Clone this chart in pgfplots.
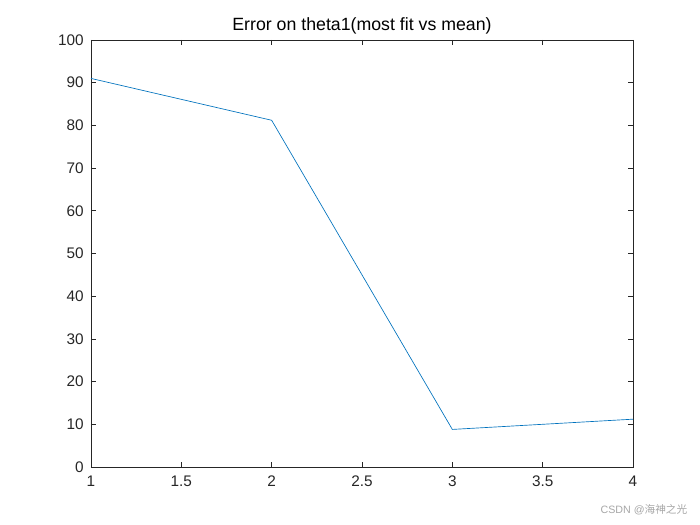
\documentclass[border=0pt]{standalone}
\usepackage{pgfplots}
\pgfplotsset{compat=1.18}
\usepackage{fontspec}
\setmainfont{Liberation Sans}
\newfontfamily\cjk{Noto Sans CJK SC}
\definecolor{mblue}{rgb}{0,0.447,0.741}
\definecolor{axgray}{rgb}{0.15,0.15,0.15}
\begin{document}
\begin{tikzpicture}
\path[use as bounding box] (-68.25pt,-43.5pt) rectangle (456.75pt,350.25pt);
\begin{axis}[
  at={(0,0)}, anchor=south west,
  scale only axis, width=406.5pt, height=320.25pt,
  xmin=1, xmax=4, ymin=0, ymax=100,
  xtick={1,1.5,...,4}, ytick={0,10,...,100},
  tick align=inside, tick pos=both,
  major tick length=4pt,
  axis line style={axgray, line width=0.5pt},
  every tick/.style={axgray, line width=0.5pt},
  tick label style={font=\fontsize{11.5}{13}\selectfont, text=axgray},
  /pgf/number format/assume math mode=true,
  title={Error on theta1(most fit vs mean)},
  title style={font=\fontsize{13.3}{15}\selectfont, yshift=-5pt},
  xticklabel style={yshift=-3pt},
  yticklabel style={xshift=-2pt},
]
\addplot[mblue, line width=0.5pt] coordinates {(1,91.0) (2,81.2) (3,8.8) (4,11.2)};
\end{axis}
\node[anchor=east, text=gray!70, font=\fontsize{8}{9}\selectfont] at (456.75pt-6pt,-40pt+8pt) {CSDN @{\cjk 海神之光}};
\end{tikzpicture}
\end{document}
